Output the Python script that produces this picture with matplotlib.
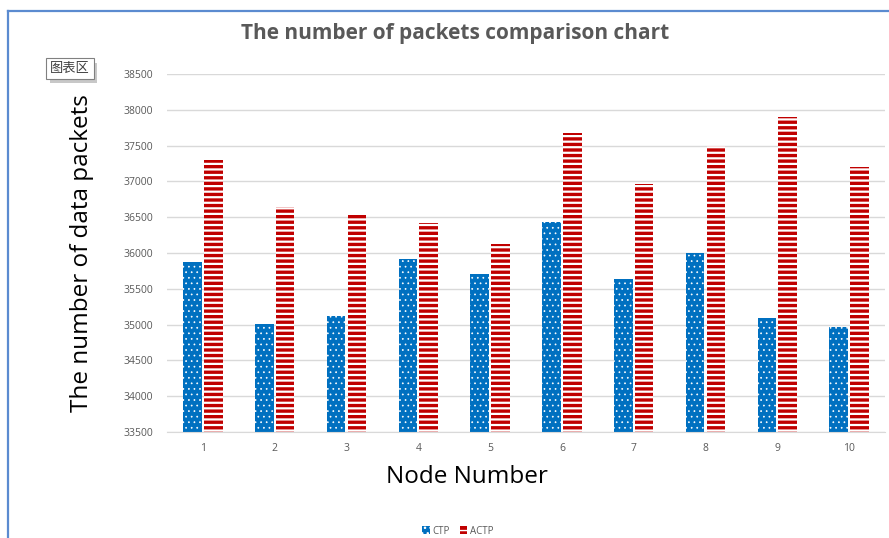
import numpy as np
import matplotlib
matplotlib.use("Agg")
import matplotlib.pyplot as plt
from matplotlib.patches import Rectangle

# values
nodes = [1, 2, 3, 4, 5, 6, 7, 8, 9, 10]
ctp = [35880, 35010, 35120, 35910, 35700, 36430, 35630, 36000, 35090, 34970]
actp = [37300, 36640, 36530, 36420, 36130, 37670, 36960, 37490, 37900, 37200]
yticks = [33500, 34000, 34500, 35000, 35500, 36000, 36500, 37000, 37500, 38000, 38500]

blue = "#0070C0"
red = "#C00000"
gray = "#595959"

plt.rcParams["font.family"] = ["Open Sans", "DejaVu Sans"]

fig = plt.figure(figsize=(8.89, 5.38), dpi=100)
ax = fig.add_axes([0.1879, 0.197, 0.8076, 0.6655])

x = np.array(nodes)
w = 0.26
off = 0.145

# solid fill then white pattern on top
ax.bar(x - off, np.array(ctp) - 33500, w, bottom=33500, color=blue, linewidth=0, zorder=2)
with plt.rc_context({"hatch.linewidth": 0.5}):
    ax.bar(x - off, np.array(ctp) - 33500, w, bottom=33500, fill=False, hatch="...",
           edgecolor="white", linewidth=0, zorder=3)
ax.bar(x + off, np.array(actp) - 33500, w, bottom=33500, color=red, linewidth=0, zorder=2)
with plt.rc_context({"hatch.linewidth": 1.6}):
    ax.bar(x + off, np.array(actp) - 33500, w, bottom=33500, fill=False, hatch="---",
           edgecolor="white", linewidth=0, zorder=3)

ax.set_xlim(0.5, 10.5)
ax.set_ylim(33500, 38500)
ax.set_yticks(yticks)
ax.set_xticks(nodes)
ax.grid(axis="y", color="#D9D9D9", linewidth=1, zorder=0)
ax.set_axisbelow(True)
for s in ["top", "right", "left"]:
    ax.spines[s].set_visible(False)
ax.spines["bottom"].set_color("#D9D9D9")
ax.tick_params(length=0, labelsize=7.5, labelcolor=gray)
ax.tick_params(axis="y", pad=10)
ax.tick_params(axis="x", pad=8)

fig.text(0.525, 0.113, "Node Number", ha="center", va="center", fontsize=17.5)
fig.text(0.092, 0.530, "The number of data packets", ha="center", va="center",
         fontsize=17.5, rotation=90)
fig.text(0.512, 0.938, "The number of packets comparison chart", ha="center", va="center",
         fontsize=15, fontweight="bold", color=gray)

# legend
h1 = Rectangle((0, 0), 1, 1, facecolor=blue, hatch="...", edgecolor="white", linewidth=0)
h2 = Rectangle((0, 0), 1, 1, facecolor=red, hatch="---", edgecolor="white", linewidth=0)
fig.legend([h1, h2], ["CTP", "ACTP"], loc="center", bbox_to_anchor=(0.515, 0.013),
           ncol=2, frameon=False, fontsize=7, labelcolor=gray, handlelength=0.8,
           handleheight=0.8, handletextpad=0.3, columnspacing=1.0)

# chart-area tooltip with a soft shadow
fig.add_artist(Rectangle((0.056, 0.8457), 0.0535, 0.0372, transform=fig.transFigure,
                         facecolor="#C8C8C8", edgecolor="none"))
fig.text(0.0785, 0.873, "图表区", ha="center", va="center", fontsize=9.5,
         family=["Noto Sans CJK SC", "DejaVu Sans"], color="#404040",
         bbox=dict(boxstyle="square,pad=0.3", facecolor="white", edgecolor="#808080", linewidth=0.8))

# chart border
fig.add_artist(plt.Line2D([0.0085, 0.0085], [0, 0.979], color="#5B8BD0", linewidth=1.6, transform=fig.transFigure))
fig.add_artist(plt.Line2D([0.0085, 1], [0.979, 0.979], color="#5B8BD0", linewidth=1.6, transform=fig.transFigure))

fig.savefig("out.png", dpi=100)
